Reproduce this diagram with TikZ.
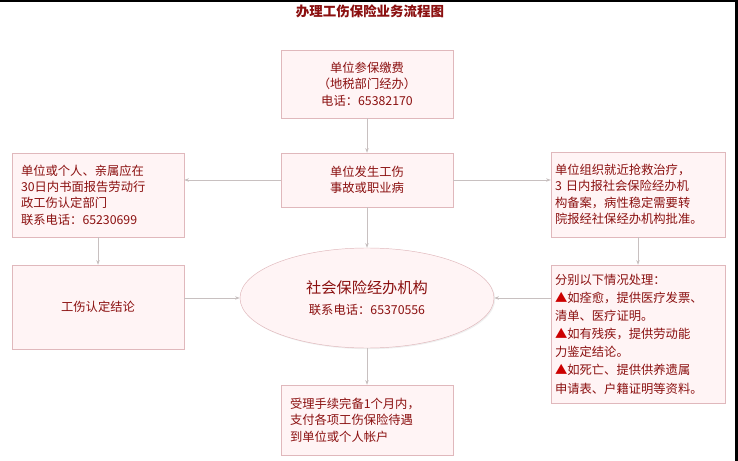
\documentclass[tikz,border=0pt]{standalone}
\usepackage{fontspec}
\setmainfont{Noto Sans CJK SC}
\usetikzlibrary{arrows.meta,shadows,shapes.geometric}
\definecolor{txt}{HTML}{8B1010}
\definecolor{bd}{HTML}{E0B8BC}
\definecolor{bg}{HTML}{FFF4F5}
\definecolor{ln}{HTML}{C8C0C0}
\tikzset{
  box/.style={draw=bd,fill=bg,text=txt,font=\fontsize{10.5}{14}\selectfont,
    drop shadow={shadow xshift=1pt,shadow yshift=-1pt,fill=black!12},inner sep=0pt},
  arr/.style={draw=ln,line width=0.6pt,-{Stealth[length=4pt,width=3pt]}}
}
\begin{document}
\begin{tikzpicture}[x=0.03cm,y=-0.03cm]
\fill[white] (0,0) rectangle (738,461);
\fill[black] (0,0) rectangle (738,2);
\fill[black] (735,0) rectangle (738,461);
\node[text=txt,font=\bfseries\fontsize{11.5}{12}\selectfont] (title) at (370,11) {办理工伤保险业务流程图};
\node[box,minimum width=172*0.03cm,minimum height=68*0.03cm,align=center] (b1) at (367,84) {单位参保缴费\\（地税部门经办）\\电话：65382170};
\node[box,minimum width=172*0.03cm,minimum height=54*0.03cm,align=center] (b2) at (367,180) {单位发生工伤\\事故或职业病};
\node[box,minimum width=172*0.03cm,minimum height=84*0.03cm,align=left,text width=154*0.03cm] (lb) at (98,195) {单位或个人、亲属应在\\30日内书面报告劳动行\\政工伤认定部门\\联系电话：65230699};
\node[box,minimum width=174*0.03cm,minimum height=85*0.03cm,align=left,text width=166*0.03cm] (rb) at (638,194.5) {单位组织就近抢救治疗，\\3 日内报社会保险经办机\\构备案，病性稳定需要转\\院报经社保经办机构批准。};
\node[box,minimum width=172*0.03cm,minimum height=84*0.03cm] (lc) at (98,307) {工伤认定结论};
\node[box,ellipse,minimum width=254*0.03cm,minimum height=100*0.03cm,align=center,font=\fontsize{13}{18}\selectfont] (el) at (367,298) {社会保险经办机构\\{\fontsize{10.5}{13}\selectfont 联系电话：65370556}};
\node[box,minimum width=174*0.03cm,minimum height=138*0.03cm,align=left,text width=166*0.03cm,font=\fontsize{10.5}{15.5}\selectfont] (rd) at (638,334) {分别以下情况处理：\\{\color{red!80!black}▲}如痊愈，提供医疗发票、\\清单、医疗证明。\\{\color{red!80!black}▲}如有残疾，提供劳动能\\力鉴定结论。\\{\color{red!80!black}▲}如死亡、提供供养遗属\\申请表、户籍证明等资料。};
\node[box,minimum width=172*0.03cm,minimum height=70*0.03cm,align=left,text width=154*0.03cm] (bt) at (367,420) {受理手续完备1个月内，\\支付各项工伤保险待遇\\到单位或个人帐户};
\draw[arr] (b1) -- (b2);
\draw[arr] (b2) -- (el);
\draw[arr] (b2.west) -- (lb.east|-b2.west);
\draw[arr] (b2.east) -- (rb.west|-b2.east);
\draw[arr] (lb) -- (lc);
\draw[arr] (rb) -- (rd);
\draw[arr] (lc.east|-el.west) -- (el.west);
\draw[arr] (rd.west|-el.east) -- (el.east);
\draw[arr] (el) -- (bt);
\end{tikzpicture}
\end{document}
